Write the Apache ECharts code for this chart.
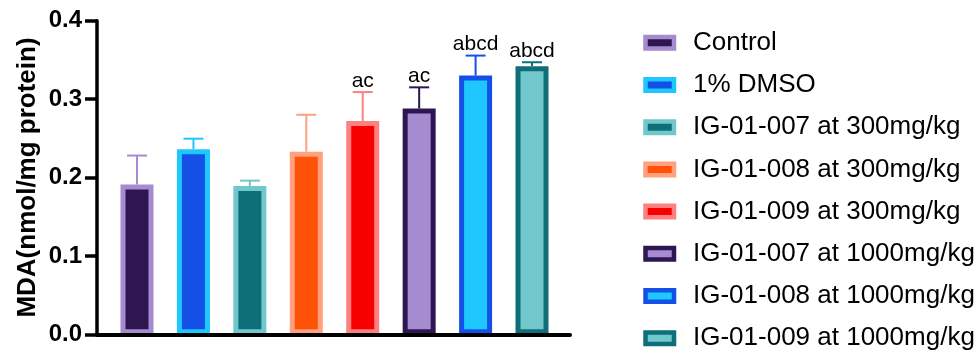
<!DOCTYPE html>
<html>
<head>
<meta charset="utf-8">
<script src="https://cdn.jsdelivr.net/npm/echarts@6/dist/echarts.min.js"></script>
<style>html,body{margin:0;padding:0;background:#fff}#c{width:978px;height:350px}</style>
</head>
<body>
<div id="c"></div>
<script>
var groups = ["Control", "1% DMSO", "IG-01-007 at 300mg/kg", "IG-01-008 at 300mg/kg", "IG-01-009 at 300mg/kg", "IG-01-007 at 1000mg/kg", "IG-01-008 at 1000mg/kg", "IG-01-009 at 1000mg/kg"];
var means = [0.191, 0.236, 0.189, 0.233, 0.272, 0.288, 0.330, 0.342];
var sems = [0.037, 0.0135, 0.007, 0.047, 0.037, 0.027, 0.0255, 0.005];
var sigLabels = ["", "", "", "", "ac", "ac", "abcd", "abcd"];
var yTicks = [0.0, 0.1, 0.2, 0.3, 0.4];
var fills = ["#2E1650", "#1450E6", "#0E6F78", "#FF5208", "#F70000", "#A68BD0", "#1EC8FF", "#72C7CD"];
var borders = ["#A68BD0", "#1EC8FF", "#72C7CD", "#FFA07E", "#FF8080", "#2E1650", "#1450E6", "#0E6F78"];

var FONT = '"Liberation Sans", Arial, sans-serif';
var chart = echarts.init(document.getElementById('c'), null, {renderer: 'canvas'});

var series = groups.map(function (g, i) {
  return {
    name: g,
    type: 'bar',
    barWidth: 33,
    barGap: '-100%',
    data: [[i, means[i]]],
    itemStyle: {color: fills[i], borderColor: borders[i], borderWidth: 5},
    emphasis: {disabled: true},
    z: 3
  };
});

series.push({
  type: 'custom',
  name: 'err',
  z: 2,
  silent: true,
  data: means.map(function (m, i) { return [i, m, sems[i]]; }),
  renderItem: function (params, api) {
    var i = api.value(0);
    var m = api.value(1);
    var e = api.value(2);
    var p0 = api.coord([i, m]);
    var p1 = api.coord([i, m + e]);
    var col = borders[i];
    var children = [
      {type: 'line', shape: {x1: p0[0], y1: p0[1], x2: p1[0], y2: p1[1]}, style: {stroke: col, lineWidth: 2}},
      {type: 'line', shape: {x1: p1[0] - 10, y1: p1[1], x2: p1[0] + 10, y2: p1[1]}, style: {stroke: col, lineWidth: 2}}
    ];
    if (sigLabels[i]) {
      children.push({type: 'text', x: p1[0], y: p1[1] - 0.5, style: {text: sigLabels[i], fill: '#000', font: '21px ' + FONT, align: 'center', verticalAlign: 'bottom'}});
    }
    return {type: 'group', children: children};
  }
});

chart.setOption({
  animation: false,
  grid: {left: 97, right: 408, top: 20.7, bottom: 15.7, containLabel: false},
  legend: {
    orient: 'vertical',
    left: 643.25,
    top: 29.7,
    height: 400,
    padding: 0,
    itemWidth: 28.5,
    itemHeight: 11.5,
    itemGap: 16.23,
    icon: 'rect',
    selectedMode: false,
    data: groups,
    itemStyle: {borderWidth: 4.5},
    textStyle: {fontSize: 26, color: '#000', fontFamily: FONT, padding: [0, 0, 0, 14]}
  },
  xAxis: {
    type: 'value',
    min: -0.709,
    max: 7.673,
    z: 10,
    axisLine: {show: true, onZero: false, lineStyle: {color: '#000', width: 4}},
    axisTick: {show: false},
    axisLabel: {show: false},
    splitLine: {show: false}
  },
  yAxis: {
    type: 'value',
    min: yTicks[0],
    max: yTicks[yTicks.length - 1],
    interval: 0.1,
    z: 10,
    name: 'MDA(nmol/mg protein)',
    nameLocation: 'middle',
    nameGap: 56,
    nameTextStyle: {fontSize: 26, fontWeight: 'bold', color: '#000', fontFamily: FONT},
    axisLine: {show: true, onZero: false, lineStyle: {color: '#000', width: 3.5}},
    axisTick: {show: true, length: 12, lineStyle: {color: '#000', width: 3.5}},
    axisLabel: {margin: 15, fontSize: 24, fontWeight: 'bold', color: '#000', fontFamily: FONT,
      formatter: function (v) { return v.toFixed(1); }},
    splitLine: {show: false}
  },
  series: series
});
</script>
</body>
</html>
